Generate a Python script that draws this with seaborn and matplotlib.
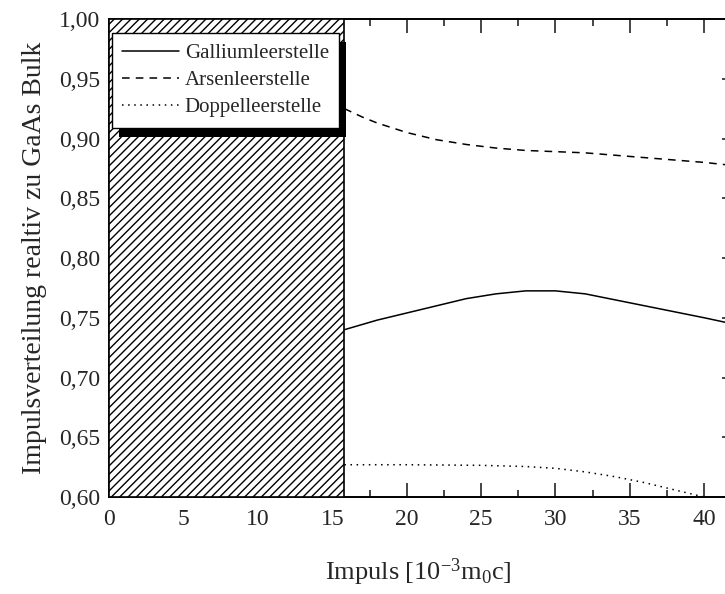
import matplotlib

matplotlib.use("Agg")

import matplotlib.pyplot as plt
import numpy as np
import pandas as pd
import seaborn as sns
from matplotlib.patches import Rectangle
from matplotlib.ticker import FuncFormatter, MultipleLocator

# values
gallium_x = [15.8, 18, 20, 22, 24, 26, 28, 30, 32, 34, 36, 38, 40, 41.5]
gallium_y = [0.740, 0.748, 0.754, 0.760, 0.766, 0.770, 0.7725, 0.7725, 0.770, 0.765, 0.760, 0.755, 0.750, 0.746]

arsen_x = [15.8, 17, 18, 20, 22, 24, 26, 28, 30, 32, 34, 36, 38, 40, 41.5]
arsen_y = [0.925, 0.918, 0.913, 0.905, 0.899, 0.895, 0.892, 0.890, 0.889, 0.888, 0.886, 0.884, 0.882, 0.880, 0.878]

doppel_x = [15.8, 20, 25, 28, 30, 32, 34, 36, 38, 40]
doppel_y = [0.627, 0.627, 0.6265, 0.6255, 0.624, 0.621, 0.617, 0.612, 0.606, 0.600]

series_names = ["Galliumleerstelle", "Arsenleerstelle", "Doppelleerstelle"]
excluded_range = (0.0, 15.8)

sns.set_theme(style="ticks")
plt.rcParams["font.family"] = ["Liberation Serif", "DejaVu Serif"]
plt.rcParams["mathtext.fontset"] = "custom"
plt.rcParams["mathtext.rm"] = "Liberation Serif"
plt.rcParams["mathtext.it"] = "Liberation Serif:italic"
plt.rcParams["hatch.linewidth"] = 1.0

fig = plt.figure(figsize=(7.25, 5.94), dpi=100)
ax = fig.add_axes([0.151, 0.1633, 0.851, 0.8047])

line_dashes = [(None, None), (5, 4), (1, 3)]
for name, xs, ys, dsh in zip(series_names, [gallium_x, arsen_x, doppel_x],
                             [gallium_y, arsen_y, doppel_y], line_dashes):
    df = pd.DataFrame({"x": xs, "y": ys})
    line_kw = {} if dsh[0] is None else {"dashes": dsh}
    sns.lineplot(data=df, x="x", y="y", ax=ax, color="black", linewidth=1.1,
                 label=name, zorder=3, **line_kw)

ax.axvspan(*excluded_range, facecolor="white", edgecolor="black", hatch="////",
           linewidth=1.2, zorder=2.6)

ax.set_xlim(0, 41.5)
ax.set_ylim(0.60, 1.00)
ax.xaxis.set_major_locator(MultipleLocator(5))
ax.xaxis.set_minor_locator(MultipleLocator(2.5))
ax.yaxis.set_major_locator(MultipleLocator(0.05))
ax.yaxis.set_major_formatter(FuncFormatter(lambda v, _: f"{v:.2f}".replace(".", ",")))

ax.tick_params(axis="x", which="major", direction="in", length=10, width=1.2,
               top=True, labelsize=17, pad=9)
ax.tick_params(axis="x", which="minor", direction="in", length=5, width=1.2, top=True)
ax.tick_params(axis="y", which="major", direction="in", length=3, width=1.2,
               left=False, right=True, labelsize=17, pad=7)
for side in ax.spines.values():
    side.set_linewidth(1.4)
    side.set_color("black")

ax.set_xlabel("Impuls [10$^{\\mathrm{-3}}$m$_{\\mathrm{0}}$c]", fontsize=19, labelpad=19)
ax.set_ylabel("Impulsverteilung realtiv zu GaAs Bulk", fontsize=20, labelpad=8)

leg = ax.legend(loc="upper left", bbox_to_anchor=(0.004, 0.97), fontsize=15,
                frameon=True, fancybox=False, framealpha=1, edgecolor="black",
                handlelength=2.7, handletextpad=0.3, borderpad=0.5,
                labelspacing=0.35, borderaxespad=0)
leg.get_frame().set_linewidth(1.0)
leg.set_zorder(5)

# solid black offset shadow behind the legend box
fig.canvas.draw()
bb = leg.get_window_extent()
inv = ax.transAxes.inverted()
(x0, y0), (x1, y1) = inv.transform([(bb.x0 + 7, bb.y0 - 9), (bb.x1 + 7, bb.y1 - 9)])
ax.add_patch(Rectangle((x0, y0), x1 - x0, y1 - y0, transform=ax.transAxes,
                       facecolor="black", edgecolor="none", zorder=4.9, clip_on=False))

fig.savefig("out.png", dpi=100)
